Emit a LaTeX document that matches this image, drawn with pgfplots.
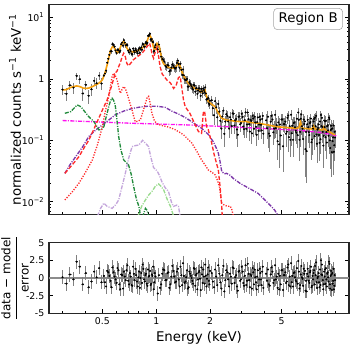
\documentclass[border=0pt]{standalone}
\usepackage{amsmath}
\usepackage{fontspec}
\setmainfont{DejaVu Sans}
\usepackage{pgfplots}
\pgfplotsset{compat=1.18}
\usepackage{pgfplotstable}

\definecolor{morange}{HTML}{F5A010}
\definecolor{mred}{HTML}{FF2A2A}
\definecolor{mgreen}{HTML}{228B3C}
\definecolor{lgreen}{HTML}{9ADB8E}
\definecolor{mpurple}{HTML}{7B35A8}
\definecolor{lpurple}{HTML}{C3A5DB}
\definecolor{mmag}{HTML}{FF10F0}

% spectrum: E, half bin width, flux, flux error, residual
\pgfplotstableread{
E dE F dF R
0.300 0.0075 0.67 0.13 0.1
0.315 0.0075 0.57 0.14 -0.8
0.330 0.0075 0.79 0.14 0.5
0.345 0.0075 0.72 0.15 -0.2
0.360 0.0075 1.12 0.15 2.3
0.375 0.0075 0.99 0.15 1.6
0.390 0.0075 0.58 0.14 -0.9
0.405 0.0075 0.80 0.14 0.7
0.420 0.0075 0.53 0.14 -1.3
0.435 0.0075 0.68 0.15 -0.5
0.450 0.0075 0.93 0.16 0.9
0.465 0.0075 0.85 0.17 0.1
0.480 0.0075 1.13 0.18 1.4
0.495 0.0075 0.84 0.19 -0.6
0.510 0.0075 1.13 0.09 0.3
0.5175 0.0075 1.22 0.10 -0.6
0.525 0.0075 1.36 0.12 -1.2
0.5325 0.0075 1.84 0.14 1.0
0.540 0.0075 2.13 0.16 0.8
0.5475 0.0075 2.46 0.19 0.3
0.555 0.0075 2.81 0.23 -0.4
0.5625 0.0075 2.82 0.25 -1.3
0.570 0.0075 3.70 0.26 1.5
0.5775 0.0075 3.58 0.27 0.8
0.585 0.0075 3.35 0.26 0.2
0.5925 0.0075 2.90 0.24 -0.2
0.600 0.0075 2.64 0.22 -0.7
0.6075 0.0075 2.98 0.21 1.4
0.615 0.0075 2.94 0.22 1.1
0.6225 0.0075 2.74 0.24 -0.9
0.630 0.0075 2.88 0.26 -1.6
0.6375 0.0075 3.69 0.28 0.5
0.645 0.0075 3.92 0.30 0.4
0.6525 0.0075 3.48 0.32 -1.5
0.660 0.0075 4.29 0.32 0.9
0.6675 0.0075 3.91 0.31 0.2
0.675 0.0075 3.51 0.29 -0.3
0.6825 0.0075 3.59 0.26 1.1
0.690 0.0075 3.55 0.25 1.8
0.6975 0.0075 2.87 0.24 -0.4
0.705 0.0075 2.69 0.23 -0.9
0.7125 0.0075 3.03 0.23 0.7
0.720 0.0075 2.84 0.22 0.2
0.7275 0.0075 2.58 0.22 -1.0
0.735 0.0075 2.51 0.22 -1.1
0.7425 0.0075 3.11 0.22 1.6
0.750 0.0075 2.88 0.22 0.6
0.7575 0.0075 2.70 0.22 -0.3
0.765 0.0075 3.09 0.22 1.3
0.7725 0.0075 2.91 0.23 0.4
0.780 0.0075 2.78 0.23 -0.5
0.7875 0.0075 2.62 0.23 -1.2
0.795 0.0075 2.97 0.24 0.1
0.8025 0.0075 3.17 0.24 0.9
0.810 0.0075 2.66 0.24 -1.4
0.8175 0.0075 3.06 0.24 0.0
0.825 0.0075 3.27 0.25 0.7
0.8325 0.0075 2.98 0.25 -0.7
0.840 0.0075 3.69 0.26 1.9
0.8475 0.0075 3.64 0.26 1.3
0.855 0.0075 3.35 0.27 -0.2
0.8625 0.0075 3.36 0.28 -0.5
0.870 0.0075 3.82 0.30 0.4
0.8775 0.0075 3.98 0.30 0.6
0.885 0.0075 3.74 0.32 -0.8
0.8925 0.0075 3.88 0.34 -1.1
0.900 0.0075 5.04 0.37 1.2
0.9075 0.0075 4.98 0.39 0.2
0.915 0.0075 5.22 0.41 0.3
0.9225 0.0075 5.45 0.40 1.0
0.930 0.0075 4.42 0.38 -1.0
0.9375 0.0075 4.31 0.37 -0.8
0.945 0.0075 4.47 0.34 0.5
0.9525 0.0075 4.04 0.32 0.3
0.960 0.0075 3.95 0.28 1.6
0.9675 0.0075 2.79 0.26 -1.6
0.975 0.0075 2.86 0.24 -0.6
0.9825 0.0075 3.27 0.25 0.7
0.990 0.0075 3.56 0.28 0.2
1.02 0.015 3.05 0.51 -2.2
1.035 0.015 3.63 0.48 0.4
1.05 0.015 2.80 0.44 -1.4
1.065 0.015 2.30 0.35 -0.9
1.08 0.015 2.11 0.27 0.6
1.095 0.015 2.05 0.26 1.2
1.11 0.015 1.92 0.24 1.1
1.125 0.015 1.63 0.23 -0.3
1.14 0.015 1.56 0.21 -0.3
1.155 0.015 1.68 0.21 0.7
1.17 0.015 1.66 0.21 0.8
1.185 0.015 1.33 0.21 -1.4
1.20 0.015 1.38 0.21 -0.9
1.215 0.015 1.53 0.21 0.2
1.23 0.015 1.73 0.21 1.7
1.245 0.015 1.64 0.21 1.0
1.26 0.015 1.53 0.21 0.2
1.275 0.015 1.47 0.21 -0.6
1.29 0.015 1.53 0.21 -0.5
1.305 0.015 1.82 0.23 0.9
1.32 0.015 1.99 0.24 1.3
1.335 0.015 1.75 0.24 -0.2
1.35 0.015 1.52 0.23 -1.2
1.365 0.015 1.77 0.21 1.6
1.38 0.015 1.40 0.18 0.4
1.395 0.015 1.16 0.18 -1.0
1.41 0.015 1.43 0.17 2.1
1.425 0.015 1.15 0.15 0.3
1.44 0.015 0.98 0.14 -0.7
1.455 0.015 0.96 0.14 -0.5
1.47 0.015 0.96 0.14 0.1
1.485 0.015 1.00 0.12 1.1
1.50 0.015 0.75 0.12 -1.5
1.515 0.015 0.75 0.12 -1.3
1.53 0.015 0.89 0.11 0.9
1.545 0.015 0.84 0.11 0.6
1.56 0.015 0.80 0.11 0.3
1.575 0.015 0.76 0.11 0.0
1.59 0.015 0.71 0.11 -0.4
1.605 0.015 0.67 0.10 -0.8
1.62 0.015 0.80 0.09 1.4
1.635 0.015 0.78 0.095 1.3
1.65 0.015 0.62 0.09 -1.1
1.665 0.015 0.70 0.09 0.4
1.68 0.015 0.71 0.09 0.6
1.695 0.015 0.57 0.09 -1.6
1.71 0.015 0.65 0.09 -0.2
1.725 0.015 0.70 0.09 0.8
1.74 0.015 0.70 0.09 1.0
1.755 0.015 0.62 0.085 -0.1
1.77 0.015 0.53 0.09 -1.7
1.785 0.015 0.69 0.083 1.5
1.80 0.015 0.63 0.08 0.5
1.815 0.015 0.58 0.084 -0.7
1.83 0.015 0.70 0.09 1.2
1.845 0.015 0.66 0.09 0.2
1.86 0.015 0.61 0.09 -0.8
1.875 0.015 0.73 0.084 1.9
1.89 0.015 0.58 0.08 0.3
1.905 0.015 0.46 0.07 -1.2
1.92 0.015 0.47 0.06 -0.1
1.935 0.015 0.47 0.06 0.5
1.95 0.015 0.49 0.06 1.5
1.965 0.015 0.40 0.057 -0.4
1.98 0.015 0.38 0.06 -0.9
1.995 0.015 0.44 0.054 1.0
2.04 0.03 0.450 0.086 0.7
2.07 0.03 0.334 0.083 -0.5
2.10 0.03 0.257 0.079 -1.3
2.13 0.03 0.436 0.076 1.2
2.16 0.03 0.345 0.073 0.2
2.19 0.03 0.238 0.067 -1.0
2.22 0.03 0.391 0.062 1.8
2.25 0.03 0.294 0.057 0.6
2.28 0.03 0.208 0.053 -0.6
2.31 0.03 0.155 0.051 -1.5
2.34 0.03 0.245 0.050 0.4
2.37 0.03 0.305 0.049 1.7
2.40 0.03 0.127 0.048 -1.9
2.43 0.03 0.202 0.048 -0.3
2.46 0.03 0.267 0.047 1.1
2.49 0.03 0.250 0.047 0.8
2.52 0.03 0.203 0.047 -0.2
2.55 0.03 0.155 0.046 -1.2
2.58 0.03 0.238 0.046 0.6
2.61 0.03 0.218 0.046 0.2
2.64 0.03 0.171 0.046 -0.8
2.67 0.03 0.275 0.046 1.5
2.70 0.03 0.271 0.046 1.4
2.73 0.03 0.174 0.045 -0.7
2.76 0.03 0.211 0.045 0.1
2.79 0.03 0.223 0.045 0.4
2.82 0.03 0.150 0.045 -1.2
2.85 0.03 0.123 0.045 -1.8
2.88 0.03 0.242 0.044 0.9
2.91 0.03 0.245 0.044 1.0
2.94 0.03 0.183 0.044 -0.4
2.97 0.03 0.191 0.044 -0.2
3.00 0.03 0.270 0.044 1.6
3.03 0.03 0.240 0.044 0.9
3.06 0.03 0.168 0.044 -0.7
3.09 0.03 0.152 0.044 -1.1
3.12 0.03 0.213 0.044 0.3
3.15 0.03 0.285 0.045 1.8
3.18 0.03 0.154 0.044 -1.0
3.21 0.03 0.181 0.044 -0.4
3.24 0.03 0.284 0.043 2.0
3.27 0.03 0.223 0.043 0.6
3.30 0.03 0.183 0.043 -0.3
3.33 0.03 0.139 0.043 -1.3
3.36 0.03 0.216 0.043 0.5
3.39 0.03 0.207 0.043 0.3
3.42 0.03 0.130 0.043 -1.5
3.45 0.03 0.252 0.042 1.4
3.48 0.03 0.227 0.042 0.8
3.51 0.03 0.154 0.042 -0.9
3.54 0.03 0.243 0.042 1.2
3.57 0.03 0.195 0.042 0.1
3.60 0.03 0.166 0.042 -0.6
3.63 0.03 0.123 0.042 -1.6
3.66 0.03 0.198 0.042 0.2
3.69 0.03 0.236 0.042 1.1
3.72 0.03 0.143 0.042 -1.1
3.75 0.03 0.181 0.042 -0.2
3.78 0.03 0.242 0.041 1.3
3.81 0.03 0.217 0.041 0.7
3.84 0.03 0.179 0.041 -0.2
3.87 0.03 0.145 0.041 -1.0
3.90 0.03 0.223 0.041 0.9
3.93 0.03 0.250 0.041 1.6
3.96 0.03 0.128 0.041 -1.4
4.10 0.025 0.212 0.054 0.6
4.15 0.025 0.158 0.054 -0.4
4.20 0.025 0.242 0.053 1.2
4.25 0.025 0.129 0.053 -0.9
4.30 0.025 0.118 0.053 -1.1
4.35 0.025 0.201 0.053 0.5
4.40 0.025 0.251 0.052 1.5
4.45 0.025 0.218 0.052 0.9
4.50 0.025 0.135 0.051 -0.7
4.55 0.025 0.155 0.051 -0.3
4.60 0.025 0.260 0.051 1.8
4.65 0.025 0.158 0.050 -0.2
4.70 0.025 0.177 0.050 0.2
4.75 0.025 0.097 0.050 -1.4
4.80 0.025 0.196 0.050 0.6
4.85 0.025 0.086 0.050 -1.6
4.90 0.025 0.181 0.050 0.3
4.95 0.025 0.120 0.050 -0.9
5.00 0.025 0.219 0.050 1.1
5.05 0.025 0.219 0.050 1.1
5.10 0.025 0.080 0.049 -1.7
5.15 0.025 0.184 0.049 0.4
5.20 0.025 0.183 0.049 0.4
5.25 0.025 0.202 0.049 0.8
5.30 0.025 0.128 0.049 -0.7
5.35 0.025 0.138 0.049 -0.5
5.40 0.025 0.233 0.048 1.5
5.45 0.025 0.253 0.048 1.9
5.50 0.025 0.113 0.048 -1.0
5.55 0.025 0.170 0.048 0.2
5.60 0.025 0.102 0.048 -1.2
5.65 0.025 0.261 0.048 2.1
5.70 0.025 0.130 0.048 -0.6
5.75 0.025 0.173 0.048 0.3
5.80 0.025 0.102 0.048 -1.2
5.85 0.025 0.191 0.047 0.7
5.90 0.025 0.196 0.047 0.8
5.95 0.025 0.163 0.047 0.1
6.00 0.025 0.143 0.047 -0.3
6.05 0.025 0.133 0.047 -0.5
6.10 0.025 0.224 0.047 1.4
6.15 0.025 0.122 0.048 -0.8
6.20 0.025 0.284 0.050 2.4
6.25 0.025 0.216 0.051 0.9
6.30 0.025 0.102 0.056 -1.5
6.35 0.025 0.137 0.059 -1.0
6.40 0.025 0.224 0.059 0.5
6.45 0.025 0.264 0.053 1.7
6.50 0.025 0.170 0.050 0.1
6.55 0.025 0.155 0.048 -0.1
6.60 0.025 0.105 0.047 -1.1
6.65 0.025 0.218 0.047 1.3
6.70 0.025 0.185 0.047 0.6
6.75 0.025 0.203 0.047 1.0
6.80 0.025 0.072 0.047 -1.8
6.85 0.025 0.137 0.047 -0.4
6.90 0.025 0.067 0.047 -1.9
6.95 0.025 0.183 0.047 0.6
7.00 0.025 0.215 0.047 1.3
7.05 0.025 0.163 0.046 0.2
7.10 0.025 0.136 0.046 -0.4
7.15 0.025 0.122 0.046 -0.7
7.20 0.025 0.190 0.046 0.8
7.25 0.025 0.199 0.046 1.0
7.30 0.025 0.226 0.046 1.6
7.35 0.025 0.093 0.046 -1.3
7.40 0.025 0.103 0.046 -1.1
7.45 0.025 0.172 0.047 0.3
7.50 0.025 0.155 0.050 -0.2
7.55 0.025 0.203 0.050 0.7
7.60 0.025 0.223 0.050 1.1
7.65 0.025 0.117 0.048 -0.9
7.70 0.025 0.234 0.047 1.7
7.75 0.025 0.170 0.046 0.4
7.80 0.025 0.251 0.045 2.2
7.85 0.025 0.124 0.045 -0.6
7.90 0.025 0.088 0.045 -1.4
7.95 0.025 0.150 0.045 0.0
8.00 0.025 0.159 0.045 0.2
8.05 0.025 0.182 0.045 0.7
8.10 0.025 0.122 0.045 -0.6
8.15 0.025 0.091 0.045 -1.3
8.20 0.025 0.203 0.045 1.2
8.25 0.025 0.104 0.044 -1.0
8.30 0.025 0.259 0.044 2.5
8.35 0.025 0.170 0.044 0.5
8.40 0.025 0.232 0.044 1.9
8.45 0.025 0.166 0.044 0.4
8.50 0.025 0.137 0.045 -0.3
8.55 0.025 0.082 0.047 -1.6
8.60 0.025 0.118 0.049 -0.9
8.65 0.025 0.210 0.050 0.9
8.70 0.025 0.164 0.047 0.2
8.75 0.025 0.204 0.045 1.2
8.80 0.025 0.112 0.044 -0.8
8.85 0.025 0.207 0.044 1.4
8.90 0.025 0.136 0.044 -0.2
8.95 0.025 0.092 0.043 -1.2
9.00 0.025 0.169 0.043 0.6
9.05 0.025 0.176 0.043 0.8
9.10 0.025 0.145 0.042 0.1
9.15 0.025 0.119 0.042 -0.5
9.20 0.025 0.235 0.042 2.3
9.25 0.025 0.221 0.041 2.0
9.30 0.025 0.100 0.041 -0.9
9.35 0.025 0.075 0.041 -1.5
9.40 0.025 0.147 0.041 0.3
9.45 0.025 0.173 0.040 1.0
9.50 0.025 0.152 0.040 0.5
9.55 0.025 0.064 0.039 -1.7
9.60 0.025 0.156 0.039 0.7
9.65 0.025 0.097 0.038 -0.8
9.70 0.025 0.112 0.038 -0.4
9.75 0.025 0.175 0.038 1.3
9.80 0.025 0.065 0.038 -1.6
9.85 0.025 0.083 0.037 -1.1
9.90 0.025 0.138 0.037 0.4
9.95 0.025 0.111 0.037 -0.3
}\spec

\tikzset{ddash/.style={line width=1pt, dash pattern=on 3pt off 1pt on 0.8pt off 1pt}}

\begin{document}
\begin{tikzpicture}
\path[use as bounding box] (-36.75pt,-102.5pt) rectangle (229.5pt,160.7pt);

\begin{axis}[
    at={(0,0)}, anchor=south west,
    scale only axis, width=225pt, height=157.2pt,
    xmode=log, ymode=log,
    xmin=0.252, xmax=11.9, ymin=0.00625, ymax=16.2,
    tick align=inside, xtick pos=left, ytick pos=both,
    axis line style={line width=0.9pt, black!85},
    major tick length=3.2pt, minor tick length=1.8pt,
    tick style={black, line width=0.6pt},
    tick label style={font=\fontsize{7}{8}\selectfont},
    label style={font=\fontsize{10}{12}\selectfont},
    xtick={0.5,1,2,5}, xticklabels={},
    minor xtick={0.3,0.4,0.6,0.7,0.8,0.9,3,4,6,7,8,9,10},
    ytick={0.01,0.1,1,10},
    yticklabels={10\textsuperscript{−2},10\textsuperscript{−1},1,10\textsuperscript{1}},
    minor ytick={0.007,0.008,0.009,0.02,0.03,0.04,0.05,0.06,0.07,0.08,0.09,0.2,0.3,0.4,0.5,0.6,0.7,0.8,0.9,2,3,4,5,6,7,8,9},
    ylabel={normalized counts s\textsuperscript{−1} keV\textsuperscript{−1}},
    ylabel style={at={(axis description cs:-0.113,0.5)}, anchor=center},
]
% data
\addplot[only marks, mark=*, mark size=0.55pt, black,
    error bars/x dir=both, error bars/x explicit,
    error bars/y dir=both, error bars/y explicit,
    error bars/error mark=none,
    error bars/error bar style={black!50, line width=0.75pt}]
  table[x=E, y=F, x error=dE, y error=dF] {\spec};

% magenta power law
\addplot[mmag, ddash] coordinates {
(0.30,0.21)(0.72,0.19)(1.5,0.178)(2.7,0.165)(3.8,0.157)(6.3,0.145)(8.15,0.135)(9.0,0.128)(10.1,0.118)};

% dark purple
\addplot[mpurple, ddash] coordinates {
(0.309,0.029)(0.33,0.040)(0.355,0.054)(0.39,0.08)(0.42,0.115)(0.46,0.148)(0.50,0.178)
(0.55,0.22)(0.59,0.26)(0.66,0.30)(0.733,0.33)(0.82,0.35)(0.906,0.36)(1.0,0.36)
(1.12,0.345)(1.22,0.30)(1.36,0.26)(1.47,0.23)(1.58,0.20)(1.69,0.175)(1.79,0.157)
(1.95,0.125)(2.08,0.095)(2.15,0.078)(2.22,0.062)(2.27,0.045)(2.32,0.031)(2.40,0.0285)
(2.47,0.029)(2.58,0.027)(2.69,0.024)(2.93,0.020)(3.3,0.0165)(3.7,0.0137)(4.3,0.0089)
(4.58,0.0073)(4.77,0.006)};

% light purple
\addplot[lpurple, ddash] coordinates {
(0.47,0.0058)(0.489,0.0078)(0.51,0.0095)(0.532,0.0084)(0.567,0.0078)(0.595,0.009)
(0.617,0.0107)(0.645,0.018)(0.672,0.029)(0.70,0.05)(0.733,0.079)(0.765,0.082)(0.80,0.084)
(0.839,0.10)(0.87,0.09)(0.906,0.079)(0.93,0.055)(0.966,0.036)(1.009,0.032)(1.04,0.027)
(1.076,0.021)(1.12,0.017)(1.17,0.0147)(1.22,0.0095)(1.25,0.0084)(1.30,0.0088)(1.33,0.0084)(1.36,0.0058)};

% light green
\addplot[lgreen, ddash] coordinates {
(0.79,0.0058)(0.83,0.0085)(0.87,0.0107)(0.91,0.013)(0.946,0.0147)(0.99,0.018)(1.03,0.0195)
(1.06,0.018)(1.10,0.0156)(1.15,0.011)(1.20,0.0084)(1.25,0.0058)};

% dark green
\addplot[mgreen, ddash] coordinates {
(0.309,0.276)(0.333,0.293)(0.35,0.34)(0.362,0.377)(0.375,0.36)(0.386,0.333)(0.40,0.29)
(0.42,0.243)(0.45,0.20)(0.478,0.148)(0.495,0.15)(0.51,0.167)(0.527,0.25)(0.543,0.354)
(0.555,0.44)(0.567,0.485)(0.578,0.45)(0.59,0.377)(0.603,0.22)(0.617,0.115)(0.635,0.07)
(0.658,0.048)(0.70,0.04)(0.725,0.028)(0.748,0.0177)(0.775,0.011)(0.80,0.0084)(0.815,0.006)
(0.84,0.0058)(0.87,0.0078)(0.89,0.0072)(0.905,0.0058)};

% red dotted
\addplot[mred, line width=1pt, dash pattern=on 0.9pt off 1.1pt] coordinates {
(0.309,0.0107)(0.34,0.0145)(0.37,0.02)(0.40,0.029)(0.44,0.048)(0.47,0.085)(0.50,0.167)
(0.52,0.30)(0.543,0.515)(0.555,0.75)(0.567,1.09)(0.578,1.24)(0.59,1.15)(0.605,0.96)
(0.618,0.72)(0.631,0.585)(0.645,0.68)(0.658,0.75)(0.672,0.70)(0.687,0.585)(0.71,0.42)
(0.733,0.313)(0.75,0.24)(0.764,0.20)(0.79,0.205)(0.815,0.215)(0.845,0.30)(0.87,0.40)
(0.89,0.50)(0.906,0.52)(0.925,0.40)(0.946,0.276)(0.975,0.21)(1.009,0.185)(1.07,0.175)
(1.146,0.167)(1.20,0.160)(1.27,0.150)(1.35,0.135)(1.42,0.123)(1.50,0.105)(1.58,0.09)
(1.69,0.065)(1.79,0.048)(1.87,0.040)(1.95,0.033)(2.05,0.030)(2.13,0.0274)(2.20,0.022)
(2.25,0.0177)(2.30,0.011)(2.32,0.0095)(2.40,0.0088)(2.50,0.0084)(2.58,0.0085)(2.63,0.0078)(2.69,0.006)};

% red dashed
\addplot[mred, line width=1pt, dash pattern=on 3pt off 1.5pt] coordinates {
(0.309,0.029)(0.34,0.040)(0.37,0.054)(0.395,0.075)(0.42,0.10)(0.45,0.155)(0.478,0.23)
(0.505,0.33)(0.532,0.455)(0.55,0.62)(0.567,0.82)(0.59,1.24)(0.605,1.35)(0.617,1.59)
(0.631,1.85)(0.645,2.3)(0.658,2.62)(0.672,2.3)(0.685,1.8)(0.70,1.63)(0.72,1.8)(0.745,2.05)
(0.764,2.17)(0.80,2.4)(0.833,2.62)(0.86,2.95)(0.888,3.36)(0.905,3.6)(0.918,3.8)(0.932,3.2)
(0.948,2.5)(0.966,2.17)(0.985,2.7)(1.009,3.36)(1.025,2.6)(1.05,1.59)(1.08,1.2)(1.15,0.95)
(1.20,0.86)(1.25,0.70)(1.29,0.78)(1.33,1.05)(1.36,1.09)(1.39,0.70)(1.42,0.45)(1.45,0.354)
(1.54,0.276)(1.62,0.20)(1.72,0.139)(1.79,0.13)(1.83,0.28)(1.86,0.30)(1.91,0.167)(1.95,0.15)
(2.04,0.09)(2.10,0.06)(2.17,0.042)(2.22,0.033)(2.27,0.0177)(2.32,0.0084)(2.35,0.004)};

% total model
\addplot[morange, line width=1.2pt] coordinates {
(0.300,0.66)(0.315,0.67)(0.330,0.72)(0.345,0.75)(0.360,0.77)(0.375,0.75)(0.390,0.71)
(0.405,0.70)(0.420,0.71)(0.440,0.75)(0.460,0.80)(0.480,0.86)(0.500,0.96)(0.515,1.20)
(0.532,1.69)(0.545,2.3)(0.555,2.9)(0.567,3.3)(0.578,3.36)(0.590,3.0)(0.605,2.65)(0.618,2.8)
(0.631,3.3)(0.645,3.85)(0.658,4.05)(0.672,3.7)(0.685,3.2)(0.696,2.97)(0.72,2.82)(0.745,2.75)
(0.764,2.78)(0.80,2.95)(0.833,3.16)(0.860,3.45)(0.888,4.05)(0.905,4.8)(0.918,5.2)(0.932,4.8)
(0.946,4.32)(0.962,3.4)(0.978,2.97)(0.993,3.4)(1.009,3.8)(1.025,3.6)(1.04,3.36)(1.058,2.6)
(1.076,2.04)(1.10,1.75)(1.146,1.59)(1.20,1.52)(1.25,1.49)(1.29,1.58)(1.33,1.8)(1.36,1.6)
(1.39,1.31)(1.44,1.05)(1.51,0.85)(1.60,0.73)(1.72,0.66)(1.78,0.61)(1.83,0.64)(1.87,0.66)
(1.91,0.52)(1.95,0.43)(2.03,0.39)(2.13,0.354)(2.22,0.28)(2.32,0.229)(2.45,0.215)(2.69,0.207)
(3.0,0.200)(3.15,0.205)(3.3,0.196)(3.7,0.190)(4.2,0.178)(4.67,0.167)(5.3,0.162)(6.05,0.157)
(6.25,0.16)(6.38,0.20)(6.5,0.16)(6.65,0.157)(7.4,0.153)(7.55,0.172)(7.7,0.153)(8.5,0.148)
(8.63,0.166)(8.76,0.148)(9.2,0.139)(9.6,0.129)(9.95,0.122)};

\node[draw=black!35, rounded corners=3pt, fill=white, inner xsep=3.8pt, inner ysep=3.2pt,
  font=\fontsize{10}{12}\selectfont, anchor=north east] at (rel axis cs:0.98,0.984) {Region B};
\end{axis}

\begin{axis}[
    at={(0,-21.3pt)}, anchor=north west,
    scale only axis, width=225pt, height=53pt,
    xmode=log,
    xmin=0.252, xmax=11.9, ymin=-5, ymax=5,
    tick align=inside, xtick pos=left, ytick pos=both,
    axis line style={line width=0.9pt, black!85},
    major tick length=3.2pt, minor tick length=1.8pt,
    tick style={black, line width=0.6pt},
    tick label style={font=\fontsize{7}{8}\selectfont},
    label style={font=\fontsize{10}{12}\selectfont},
    xtick={0.5,1,2,5}, xticklabels={0.5,1,2,5},
    minor xtick={0.3,0.4,0.6,0.7,0.8,0.9,3,4,6,7,8,9,10},
    ytick={-5,-2.5,0,2.5,5},
    yticklabels={-5,-2.5,0,2.5,5},
    xlabel={Energy (keV)},
    xlabel style={at={(axis description cs:0.5,-0.35)}, anchor=center},
    ylabel={$\dfrac{\text{\fontsize{9}{10}\selectfont data − model}}{\text{\fontsize{9}{10}\selectfont error}}$},
    ylabel style={at={(axis description cs:-0.113,0.5)}, anchor=center},
]
\addplot[black!45, line width=0.9pt] coordinates {(0.252,0)(11.9,0)};
\addplot[only marks, mark=*, mark size=0.55pt, black,
    error bars/x dir=both, error bars/x explicit,
    error bars/y dir=both, error bars/y fixed=1,
    error bars/error mark=none,
    error bars/error bar style={black!50, line width=0.75pt}]
  table[x=E, y=R, x error=dE] {\spec};
\end{axis}
\end{tikzpicture}
\end{document}
